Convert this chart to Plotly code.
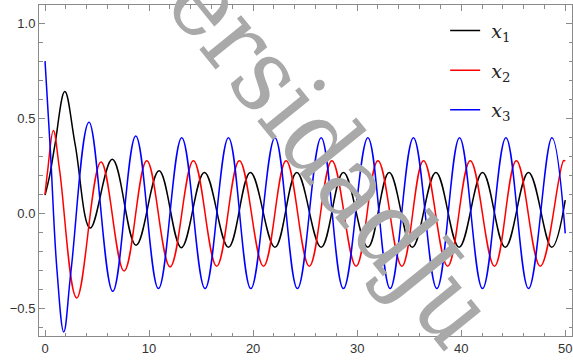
import plotly.graph_objects as go

# ---- data (extrema and a few shape points) ----
t_x1 = [0, 0.45, 0.95, 1.9, 2.9, 4.35, 6.47, 8.75, 10.96, 13.1, 15.32, 17.63, 19.74,
        22.1, 24.2, 26.54, 28.68, 31.03, 33.08, 35.3, 37.57, 39.8, 42.05, 44.23,
        46.47, 48.7, 50]
x1 = [0.096, 0.2, 0.36, 0.64, 0.36, -0.077, 0.284, -0.167, 0.224, -0.18, 0.215, -0.178,
      0.215, -0.178, 0.215, -0.178, 0.215, -0.178, 0.215, -0.178, 0.215, -0.178,
      0.215, -0.178, 0.215, -0.178, 0.07]

t_x2 = [0, 0.26, 0.8, 1.4, 3.05, 5.38, 7.6, 9.78, 12.02, 14.26, 16.5, 18.68, 21.0,
        23.17, 25.4, 27.57, 29.9, 32.0, 34.3, 36.38, 38.7, 40.87, 43.2, 45.3, 47.6,
        49.84, 50]
x2 = [0.1, 0.228, 0.435, 0.228, -0.444, 0.27, -0.302, 0.277, -0.281, 0.277, -0.277,
      0.277, -0.277, 0.277, -0.277, 0.277, -0.277, 0.277, -0.277, 0.277, -0.277,
      0.277, -0.277, 0.277, -0.277, 0.277, 0.275]

t_x3 = [0, 0.51, 1.15, 1.8, 2.5, 4.23, 6.51, 8.72, 10.9, 13.14, 15.38, 17.63, 19.78,
        22.1, 24.26, 26.54, 28.68, 31.03, 33.17, 35.41, 37.66, 39.84, 42.05, 44.3,
        46.47, 48.72, 50]
x3 = [0.8, 0.333, -0.3, -0.623, -0.3, 0.479, -0.409, 0.407, -0.395, 0.398, -0.395,
      0.398, -0.395, 0.398, -0.395, 0.398, -0.395, 0.398, -0.395, 0.398, -0.395,
      0.398, -0.395, 0.398, -0.395, 0.398, -0.105]

x_ticks = [0, 10, 20, 30, 40, 50]
y_ticks = [-0.5, 0.0, 0.5, 1.0]
y_ticklabels = ["\u22120.5", "0.0", "0.5", "1.0"]
watermark = "ersidadJu"

series = [
    (t_x1, x1, "black", "\u00a0<i>x</i><sub>1</sub>"),
    (t_x2, x2, "#ff0000", "\u00a0<i>x</i><sub>2</sub>"),
    (t_x3, x3, "#0000ff", "\u00a0<i>x</i><sub>3</sub>"),
]

fig = go.Figure()
for i, (t, v, c, name) in enumerate(series):
    fig.add_trace(go.Scatter(
        x=t, y=v, mode="lines", name=name, legendgroup=f"g{i}",
        line=dict(color=c, width=1.5, shape="spline", smoothing=1.1),
    ))

frame = "#8a8a8a"
axis_common = dict(
    showline=True, linecolor=frame, linewidth=1, mirror="allticks",
    ticks="inside", ticklen=6, tickcolor=frame, tickwidth=1,
    showgrid=False, zeroline=False,
    tickfont=dict(family="Liberation Sans", size=13, color="#333333"),
)

fig.update_xaxes(
    range=[-0.58, 50.65], tickvals=x_ticks,
    minor=dict(ticks="inside", dtick=2, tick0=0, ticklen=3.5, tickcolor=frame, showgrid=False),
    **axis_common,
)
fig.update_yaxes(
    range=[-0.644, 1.095], tickvals=y_ticks, ticktext=y_ticklabels,
    minor=dict(ticks="inside", dtick=0.1, tick0=0, ticklen=3.5, tickcolor=frame, showgrid=False),
    **axis_common,
)

fig.add_annotation(
    text=watermark, xref="paper", yref="paper", x=0.55, y=0.545,
    xanchor="center", yanchor="middle", showarrow=False, textangle=51,
    font=dict(family="DejaVu Serif Condensed", size=104, color="#a9a9a9"),
)

fig.update_layout(
    width=573, height=360,
    margin=dict(l=39, r=1, t=5, b=24),
    plot_bgcolor="white", paper_bgcolor="white",
    showlegend=True,
    legend=dict(
        x=0.762, y=0.98, xanchor="left", yanchor="top",
        bgcolor="rgba(0,0,0,0)", tracegroupgap=12,
        font=dict(family="DejaVu Serif", size=19, color="#222222"),
    ),
)

fig.write_html("out.html")
